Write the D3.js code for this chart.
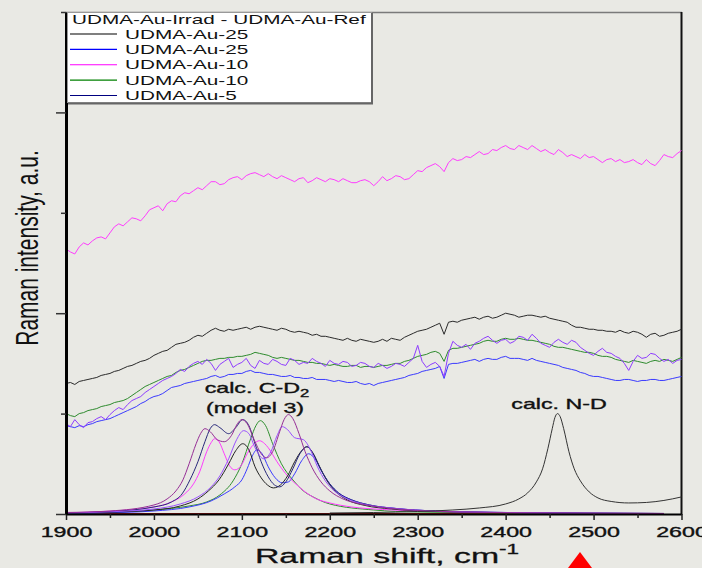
<!DOCTYPE html>
<html>
<head>
<meta charset="utf-8">
<script src="https://cdn.jsdelivr.net/npm/d3@7"></script>
<style>
  html, body { margin: 0; padding: 0; background: #e9e9e4; }
  svg { display: block; font-family: "Liberation Sans", Arial, sans-serif; }
</style>
</head>
<body>
<svg id="chart" width="702" height="568"></svg>
<script>
// Raman shift grid (cm-1), 5 cm-1 steps, shared by the measured difference spectra
const shifts = d3.range(1900, 2601, 5);

// Measured difference spectra (stacked, arbitrary units), one row per 50 cm-1
const au10Magenta = [
  2.64,2.61,2.59,2.66,2.70,2.68,2.72,2.75,2.76,2.74,
  2.80,2.86,2.89,2.87,2.91,2.95,2.94,2.92,2.97,3.03,
  3.05,3.07,3.02,3.09,3.12,3.11,3.17,3.20,3.19,3.22,
  3.25,3.23,3.27,3.31,3.31,3.28,3.29,3.33,3.35,3.36,
  3.33,3.37,3.39,3.40,3.38,3.36,3.39,3.36,3.34,3.37,
  3.35,3.33,3.31,3.34,3.35,3.30,3.32,3.35,3.33,3.31,
  3.34,3.33,3.31,3.34,3.32,3.30,3.30,3.32,3.33,3.31,
  3.27,3.31,3.36,3.32,3.34,3.37,3.36,3.33,3.34,3.38,
  3.42,3.41,3.45,3.47,3.49,3.46,3.41,3.50,3.54,3.52,
  3.53,3.56,3.55,3.58,3.61,3.58,3.59,3.63,3.62,3.65,
  3.67,3.64,3.63,3.67,3.65,3.63,3.67,3.64,3.61,3.63,
  3.60,3.58,3.63,3.60,3.56,3.58,3.56,3.54,3.58,3.55,
  3.56,3.53,3.50,3.53,3.54,3.51,3.53,3.50,3.51,3.53,
  3.50,3.48,3.53,3.49,3.47,3.52,3.58,3.56,3.55,3.59,
  3.62];
const au25Black = [
  1.30,1.31,1.29,1.32,1.33,1.34,1.35,1.36,1.38,1.39,
  1.40,1.42,1.43,1.45,1.47,1.48,1.50,1.52,1.53,1.55,
  1.58,1.60,1.62,1.63,1.66,1.69,1.70,1.71,1.73,1.76,
  1.78,1.77,1.80,1.83,1.85,1.83,1.82,1.84,1.83,1.84,
  1.85,1.86,1.84,1.86,1.87,1.86,1.85,1.84,1.83,1.85,
  1.84,1.82,1.81,1.82,1.81,1.80,1.78,1.79,1.77,1.77,
  1.76,1.75,1.74,1.73,1.75,1.73,1.72,1.74,1.73,1.72,
  1.71,1.72,1.74,1.72,1.75,1.74,1.73,1.76,1.78,1.80,
  1.82,1.83,1.84,1.86,1.88,1.90,1.79,1.91,1.92,1.91,
  1.93,1.94,1.95,1.96,1.94,1.96,1.97,1.95,1.96,1.98,
  2.00,1.99,1.98,1.96,1.97,1.98,1.98,1.97,1.96,1.97,
  1.95,1.94,1.93,1.92,1.91,1.88,1.86,1.86,1.85,1.84,
  1.84,1.83,1.83,1.82,1.82,1.81,1.83,1.81,1.80,1.82,
  1.81,1.79,1.76,1.79,1.80,1.77,1.78,1.80,1.81,1.82,
  1.84];
const au10Green = [
  1.00,0.98,0.97,1.00,1.01,1.03,1.04,1.05,1.07,1.08,
  1.09,1.11,1.12,1.13,1.15,1.18,1.21,1.24,1.27,1.29,
  1.31,1.33,1.35,1.37,1.38,1.41,1.43,1.44,1.46,1.48,
  1.50,1.52,1.53,1.53,1.54,1.55,1.55,1.56,1.56,1.57,
  1.57,1.58,1.59,1.61,1.60,1.59,1.58,1.56,1.55,1.56,
  1.55,1.54,1.53,1.53,1.52,1.51,1.51,1.50,1.50,1.49,
  1.48,1.49,1.48,1.47,1.47,1.48,1.48,1.46,1.47,1.47,
  1.46,1.47,1.48,1.48,1.49,1.50,1.50,1.52,1.53,1.55,
  1.57,1.58,1.59,1.61,1.62,1.60,1.52,1.63,1.65,1.65,
  1.66,1.67,1.68,1.69,1.70,1.72,1.73,1.72,1.72,1.74,
  1.75,1.74,1.74,1.75,1.74,1.73,1.73,1.72,1.71,1.70,
  1.69,1.67,1.66,1.66,1.65,1.64,1.63,1.62,1.61,1.61,
  1.60,1.58,1.57,1.57,1.56,1.54,1.53,1.52,1.51,1.53,
  1.52,1.51,1.50,1.52,1.53,1.52,1.54,1.53,1.52,1.54,
  1.56];
const au5Violet = [
  0.90,0.87,0.94,0.89,0.86,0.91,0.92,0.95,0.97,0.94,
  0.99,1.03,1.06,1.04,1.09,1.13,1.15,1.17,1.21,1.24,
  1.27,1.30,1.33,1.35,1.37,1.40,1.44,1.42,1.47,1.50,
  1.52,1.49,1.54,1.50,1.43,1.49,1.52,1.55,1.46,1.49,
  1.51,1.55,1.48,1.45,1.53,1.50,1.49,1.54,1.52,1.49,
  1.48,1.55,1.53,1.49,1.51,1.50,1.55,1.52,1.50,1.47,
  1.53,1.50,1.49,1.52,1.51,1.47,1.48,1.51,1.50,1.47,
  1.46,1.50,1.48,1.45,1.47,1.50,1.49,1.47,1.51,1.55,
  1.68,1.52,1.46,1.49,1.51,1.47,1.37,1.60,1.72,1.68,
  1.66,1.69,1.64,1.70,1.72,1.75,1.77,1.73,1.70,1.73,
  1.74,1.70,1.72,1.77,1.76,1.73,1.79,1.75,1.70,1.68,
  1.66,1.71,1.74,1.71,1.69,1.73,1.71,1.66,1.63,1.60,
  1.58,1.62,1.65,1.61,1.60,1.57,1.55,1.50,1.43,1.52,
  1.58,1.55,1.56,1.60,1.59,1.55,1.52,1.54,1.50,1.53,
  1.54];
const au25Blue = [
  0.88,0.87,0.86,0.88,0.87,0.89,0.90,0.92,0.93,0.94,
  0.95,0.97,0.99,1.01,1.03,1.05,1.07,1.10,1.12,1.15,
  1.17,1.18,1.20,1.23,1.26,1.27,1.28,1.30,1.31,1.32,
  1.33,1.34,1.35,1.37,1.38,1.36,1.37,1.39,1.39,1.40,
  1.40,1.42,1.43,1.41,1.41,1.40,1.39,1.39,1.38,1.37,
  1.37,1.38,1.36,1.36,1.35,1.35,1.36,1.34,1.34,1.34,
  1.33,1.32,1.33,1.32,1.31,1.31,1.32,1.30,1.29,1.30,
  1.28,1.30,1.31,1.32,1.33,1.34,1.35,1.36,1.38,1.39,
  1.40,1.42,1.43,1.44,1.45,1.47,1.35,1.49,1.50,1.50,
  1.51,1.52,1.53,1.54,1.52,1.54,1.55,1.54,1.54,1.56,
  1.57,1.55,1.55,1.55,1.54,1.53,1.55,1.53,1.52,1.51,
  1.50,1.49,1.48,1.46,1.45,1.44,1.43,1.41,1.40,1.38,
  1.37,1.37,1.36,1.35,1.34,1.33,1.33,1.34,1.34,1.33,
  1.32,1.33,1.33,1.34,1.34,1.33,1.33,1.34,1.35,1.36,
  1.37];

// Calculated C-D2 band profiles (model 3): [shift, intensity]
const calcPurple = [[1900,0.015],[1950,0.03],[2000,0.09],[2015,0.15],[2025,0.23],[2033,0.34],[2040,0.50],[2048,0.70],[2053,0.80],[2058,0.85],[2064,0.82],[2072,0.74],[2080,0.72],[2088,0.78],[2095,0.90],[2100,0.94],[2106,0.90],[2114,0.74],[2122,0.60],[2128,0.56],[2135,0.62],[2143,0.82],[2148,0.94],[2153,0.99],[2158,0.95],[2165,0.80],[2172,0.62],[2180,0.46],[2190,0.32],[2200,0.23],[2215,0.15],[2235,0.10],[2260,0.065],[2300,0.035],[2350,0.02],[2450,0.01],[2580,0.005]];
const calcNavy = [[1900,0.012],[1950,0.025],[2000,0.07],[2020,0.12],[2032,0.20],[2041,0.34],[2050,0.52],[2058,0.72],[2064,0.85],[2069,0.89],[2075,0.86],[2085,0.80],[2093,0.86],[2101,0.94],[2108,0.88],[2115,0.70],[2122,0.52],[2130,0.37],[2137,0.29],[2143,0.27],[2150,0.32],[2158,0.45],[2166,0.60],[2174,0.67],[2181,0.60],[2190,0.44],[2200,0.30],[2210,0.21],[2225,0.14],[2245,0.09],[2275,0.055],[2320,0.03],[2400,0.015],[2580,0.005]];
const calcBlack = [[1900,0.008],[1950,0.018],[2000,0.04],[2030,0.08],[2050,0.15],[2062,0.23],[2074,0.34],[2085,0.50],[2093,0.63],[2101,0.70],[2108,0.64],[2115,0.47],[2122,0.36],[2129,0.29],[2136,0.26],[2144,0.29],[2152,0.38],[2160,0.52],[2168,0.63],[2174,0.67],[2180,0.62],[2188,0.48],[2197,0.33],[2207,0.22],[2220,0.14],[2240,0.085],[2270,0.05],[2320,0.026],[2400,0.013],[2580,0.005]];
const calcMagenta = [[1900,0.012],[1950,0.028],[2000,0.07],[2020,0.12],[2035,0.20],[2045,0.30],[2052,0.42],[2060,0.62],[2065,0.71],[2069,0.75],[2074,0.72],[2080,0.60],[2086,0.48],[2092,0.44],[2099,0.48],[2106,0.60],[2114,0.70],[2120,0.73],[2126,0.70],[2130,0.66],[2140,0.52],[2150,0.40],[2160,0.31],[2172,0.22],[2185,0.15],[2200,0.11],[2225,0.07],[2260,0.045],[2320,0.025],[2400,0.013],[2580,0.005]];
const calcViolet = [[1900,0.01],[1950,0.022],[2000,0.05],[2030,0.10],[2050,0.17],[2065,0.27],[2075,0.38],[2085,0.55],[2094,0.74],[2102,0.83],[2108,0.80],[2115,0.66],[2125,0.55],[2133,0.62],[2140,0.78],[2146,0.87],[2152,0.84],[2160,0.76],[2170,0.74],[2178,0.64],[2186,0.47],[2195,0.33],[2205,0.23],[2220,0.15],[2240,0.095],[2270,0.06],[2320,0.03],[2400,0.015],[2580,0.005]];
const calcGreen = [[1900,0.006],[1950,0.015],[2000,0.04],[2040,0.08],[2060,0.12],[2075,0.19],[2090,0.33],[2100,0.50],[2110,0.75],[2116,0.88],[2121,0.93],[2127,0.88],[2135,0.70],[2145,0.50],[2158,0.34],[2170,0.23],[2181,0.17],[2200,0.10],[2250,0.04],[2300,0.02],[2400,0.01],[2580,0.005]];
const calcBlue = [[1900,0.006],[1950,0.013],[2000,0.03],[2040,0.07],[2065,0.13],[2080,0.20],[2092,0.27],[2100,0.34],[2106,0.45],[2112,0.58],[2117,0.64],[2123,0.60],[2130,0.47],[2138,0.36],[2146,0.31],[2153,0.32],[2160,0.40],[2168,0.53],[2176,0.60],[2183,0.55],[2191,0.42],[2200,0.30],[2210,0.21],[2225,0.14],[2245,0.09],[2275,0.055],[2320,0.03],[2400,0.015],[2580,0.005]];
const calcBase = [[1900,0.004],[2200,0.004],[2545,0.004]];
// Calculated N-D band
const calcND = [[2200,0.01],[2250,0.015],[2300,0.025],[2340,0.04],[2370,0.06],[2400,0.10],[2415,0.15],[2425,0.21],[2435,0.32],[2442,0.45],[2448,0.65],[2453,0.85],[2456,0.96],[2459,1.0],[2462,0.97],[2466,0.85],[2472,0.62],[2478,0.45],[2485,0.33],[2495,0.22],[2505,0.16],[2520,0.125],[2540,0.11],[2560,0.115],[2580,0.135],[2600,0.17]];

// Axis ticks and labels
const xMajorTicks = [1900,2000,2100,2200,2300,2400,2500,2600];
const xMinorTicks = [1950,2050,2150,2250,2350,2450,2550];
const yMajorTicks = [0,2,4];
const yMinorTicks = [1,3,5];

const legendTitle = "UDMA-Au-Irrad - UDMA-Au-Ref";
const legendNames = ["UDMA-Au-25","UDMA-Au-25","UDMA-Au-10","UDMA-Au-10","UDMA-Au-5"];
const legendColors = ["#000000","#0000ff","#ff00ff","#008000","#000080"];

const svg = d3.select("#chart");
const SX = 1.66;   // horizontal stretch of the lettering

const x = d3.scaleLinear().domain([1900, 2600]).range([66, 681.5]);
const y = d3.scaleLinear().domain([0, 5]).range([514, 12]);

const line = d3.line().x(d => x(d[0])).y(d => y(d[1]));
const smooth = d3.line().x(d => x(d[0])).y(d => y(d[1])).curve(d3.curveMonotoneX);

// frame: top and right
svg.append("line").attr("x1", 66).attr("x2", 682).attr("y1", 12.5).attr("y2", 12.5)
  .attr("stroke", "#7a7a7a").attr("stroke-width", 1.5);
svg.append("line").attr("x1", 681.5).attr("x2", 681.5).attr("y1", 12).attr("y2", 515)
  .attr("stroke", "#111").attr("stroke-width", 2);

const plot = svg.append("g");

// calculated bands
const calcSeries = [
  {data: calcBase, color: "#8b0000"},
  {data: calcGreen, color: "#2f8f2f"},
  {data: calcBlue, color: "#3a3aff"},
  {data: calcMagenta, color: "#ff3cff"},
  {data: calcBlack, color: "#222222"},
  {data: calcNavy, color: "#28287a"},
  {data: calcViolet, color: "#9a50ff"},
  {data: calcPurple, color: "#962e96"},
  {data: calcND, color: "#333333"}
];
plot.selectAll("path.calc").data(calcSeries).join("path")
  .attr("class", "calc")
  .attr("d", d => smooth(d.data))
  .attr("fill", "none").attr("stroke", d => d.color).attr("stroke-width", 1);

// measured spectra
const traceSeries = [
  {values: au25Blue, color: "#3a3aff"},
  {values: au10Green, color: "#2e8b2e"},
  {values: au5Violet, color: "#8e3cff"},
  {values: au25Black, color: "#2a2a2a"},
  {values: au10Magenta, color: "#ff3cff"}
];
plot.selectAll("path.trace").data(traceSeries).join("path")
  .attr("class", "trace")
  .attr("d", d => line(d.values.map((v, i) => [shifts[i], v])))
  .attr("fill", "none").attr("stroke", d => d.color).attr("stroke-width", 1);

// annotations
function stretchedText(cx, by, size) {
  return svg.append("g").attr("transform", `translate(${cx},${by}) scale(${SX},1)`)
    .append("text").attr("text-anchor", "middle").attr("font-size", size)
    .attr("fill", "#111").attr("stroke", "#111").attr("stroke-width", 0.35);
}
const cd = stretchedText(257, 393, 14);
cd.append("tspan").text("calc. C-D");
cd.append("tspan").text("2").attr("font-size", 10).attr("dy", 4);
stretchedText(255, 413, 14).text("(model 3)");
stretchedText(559, 409, 14).text("calc. N-D");

// x axis
const xAxisG = svg.append("g").attr("transform", "translate(0,514)");
xAxisG.call(d3.axisBottom(x).tickValues(xMajorTicks).tickSize(6).tickSizeOuter(0).tickFormat(d3.format("d")));
xAxisG.select(".domain").attr("stroke", "#000").attr("stroke-width", 2);
xAxisG.selectAll(".tick line").attr("stroke", "#222").attr("stroke-width", 1.5);
xAxisG.selectAll(".tick text")
  .attr("y", 0).attr("dy", null)
  .attr("transform", `translate(0,23) scale(${SX},1)`)
  .attr("font-size", 14).attr("fill", "#111").attr("stroke", "#111").attr("stroke-width", 0.35)
  .attr("font-family", "'Liberation Sans', Arial, sans-serif");
const xMinorG = svg.append("g").attr("transform", "translate(0,514)");
xMinorG.call(d3.axisBottom(x).tickValues(xMinorTicks).tickSize(4).tickSizeOuter(0).tickFormat(""));
xMinorG.select(".domain").remove();
xMinorG.selectAll(".tick line").attr("stroke", "#222").attr("stroke-width", 1.5);

// y axis (no tick labels)
const yAxisG = svg.append("g").attr("transform", "translate(66,0)");
yAxisG.call(d3.axisLeft(y).tickValues(yMajorTicks).tickSize(10).tickSizeOuter(0).tickFormat(""));
yAxisG.select(".domain").attr("stroke", "#000").attr("stroke-width", 3);
yAxisG.selectAll(".tick line").attr("stroke", "#333").attr("stroke-width", 1.5);
const yMinorG = svg.append("g").attr("transform", "translate(66,0)");
yMinorG.call(d3.axisLeft(y).tickValues(yMinorTicks).tickSize(5).tickSizeOuter(0).tickFormat(""));
yMinorG.select(".domain").remove();
yMinorG.selectAll(".tick line").attr("stroke", "#333").attr("stroke-width", 1.5);

// axis titles
const xt = svg.append("g").attr("transform", `translate(387,563) scale(1.61,1)`)
  .append("text").attr("text-anchor", "middle").attr("font-size", 21)
  .attr("fill", "#111").attr("stroke", "#111").attr("stroke-width", 0.3);
xt.append("tspan").text("Raman shift, cm");
xt.append("tspan").text("-1").attr("font-size", 14).attr("dy", -9);

svg.append("g").attr("transform", "translate(38,248) scale(1.5,1) rotate(-90)")
  .append("text").attr("text-anchor", "middle").attr("font-size", 21).attr("fill", "#111")
  .text("Raman intensity, a.u.");

// legend
const lg = svg.append("g");
lg.append("rect").attr("x", 67.5).attr("y", 12.5).attr("width", 304).attr("height", 90)
  .attr("fill", "#ffffff").attr("stroke", "#999").attr("stroke-width", 1);
lg.append("line").attr("x1", 372).attr("x2", 372).attr("y1", 13).attr("y2", 104)
  .attr("stroke", "#666").attr("stroke-width", 2);
lg.append("line").attr("x1", 68).attr("x2", 373).attr("y1", 103.5).attr("y2", 103.5)
  .attr("stroke", "#666").attr("stroke-width", 2);
lg.append("g").attr("transform", `translate(72,24) scale(${SX},1)`)
  .append("text").attr("font-size", 12.5).attr("fill", "#111").text(legendTitle);
const rowY = d3.scaleLinear().domain([0, 4]).range([34, 95.5]);
const rows = lg.selectAll("g.row").data(legendNames).join("g").attr("class", "row")
  .attr("transform", (d, i) => `translate(0,${rowY(i)})`);
rows.append("line").attr("x1", 70).attr("x2", 117).attr("y1", 0).attr("y2", 0)
  .attr("stroke", (d, i) => legendColors[i]).attr("stroke-width", 1.2);
rows.append("g").attr("transform", `translate(125,4.5) scale(${SX},1)`)
  .append("text").attr("font-size", 12.5).attr("fill", "#111").text(d => d);

// red marker below the axis title
svg.append("path").attr("d", "M 568 568 L 580 552 L 592 568 Z").attr("fill", "#ff0000");
</script>
</body>
</html>
